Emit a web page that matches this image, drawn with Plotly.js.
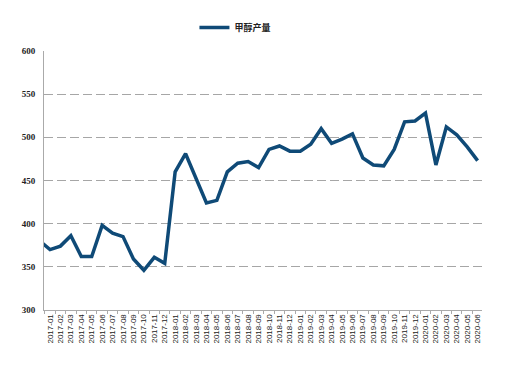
<!DOCTYPE html>
<html>
<head>
<meta charset="utf-8">
<script src="https://cdn.plot.ly/plotly-3.0.1.min.js"></script>
<style>html,body{margin:0;padding:0;background:#fff;}#chart{width:509px;height:373px;}</style>
</head>
<body>
<div id="chart"></div>
<script>
// lead-in month (clipped at the left edge in the reference) followed by the labelled months
const leadMonth = ["2016-12"];
const months = [
  "2017-01","2017-02","2017-03","2017-04","2017-05","2017-06","2017-07","2017-08","2017-09","2017-10","2017-11","2017-12",
  "2018-01","2018-02","2018-03","2018-04","2018-05","2018-06","2018-07","2018-08","2018-09","2018-10","2018-11","2018-12",
  "2019-01","2019-02","2019-03","2019-04","2019-05","2019-06","2019-07","2019-08","2019-09","2019-10","2019-11","2019-12",
  "2020-01","2020-02","2020-03","2020-04","2020-05","2020-06"
];
const leadValue = [380];
const methanolOutput = [
  370, 374, 386, 362, 362, 398, 389, 385, 359, 346, 361, 354,
  460, 481, 452, 424, 427, 460, 470, 472, 465, 486, 490, 484,
  484, 492, 510, 493, 498, 504, 476, 468, 467, 486, 518, 519,
  528, 468, 512, 503, 489, 473
];
const seriesName = "甲醇产量";

const allX = leadMonth.concat(months);
const allY = leadValue.concat(methanolOutput);

const trace = {
  x: allX, y: allY, type: "scatter", mode: "lines", name: seriesName,
  line: {color: "#0f4a77", width: 3.5}
};

const layout = {
  width: 509, height: 373,
  margin: {l: 44, r: 27, t: 51, b: 63},
  paper_bgcolor: "#fff", plot_bgcolor: "#fff",
  showlegend: true,
  legend: {
    orientation: "h", xref: "container", yref: "container",
    x: 0.382, y: 0.965, xanchor: "left", yanchor: "top",
    font: {family: "Noto Sans CJK SC", size: 9, color: "#222", weight: "bold"}
  },
  xaxis: {
    type: "category",
    range: [0.425, 42.42],
    tickmode: "array", tickvals: months, ticktext: months,
    tickangle: -90, tickson: "boundaries",
    ticks: "outside", ticklen: 3, tickcolor: "#aaa",
    showline: true, linecolor: "#aaa", linewidth: 1,
    showgrid: false, zeroline: false,
    tickfont: {family: "Liberation Sans", size: 8, color: "#222"}
  },
  yaxis: {
    range: [300, 600], dtick: 50, tick0: 300,
    showline: true, linecolor: "#aaa", linewidth: 1,
    showgrid: true, gridcolor: "#a6a6a6", griddash: "9px,4px", gridwidth: 1,
    zeroline: false, ticks: "", ticklabelstandoff: 6,
    tickfont: {family: "Liberation Serif", size: 9, color: "#222", weight: "bold"}
  }
};

Plotly.newPlot("chart", [trace], layout, {staticPlot: true, displayModeBar: false});
</script>
</body>
</html>
